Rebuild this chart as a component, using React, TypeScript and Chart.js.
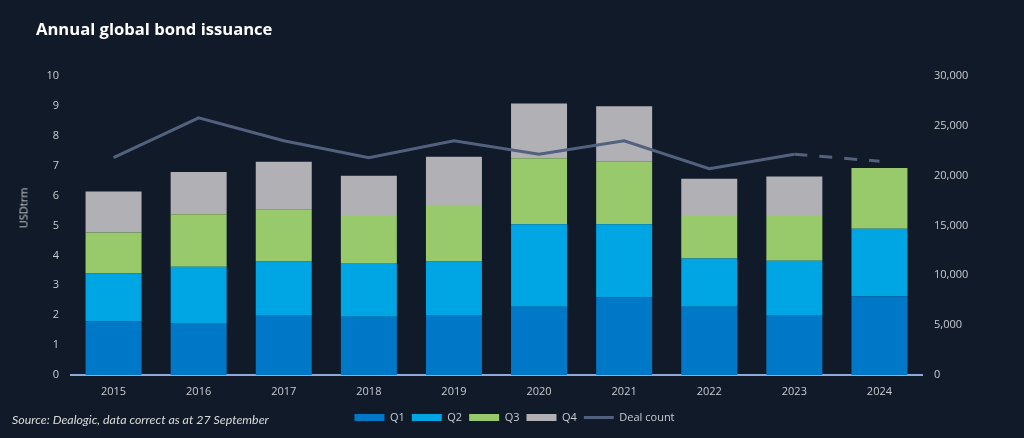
import React, { useEffect, useRef } from 'react';
import { Chart, registerables } from 'chart.js';

Chart.register(...registerables);

const years = ['2015', '2016', '2017', '2018', '2019', '2020', '2021', '2022', '2023', '2024'];
const q1 = [1.80, 1.74, 1.98, 1.95, 1.98, 2.28, 2.59, 2.28, 1.98, 2.63];
const q2 = [1.60, 1.88, 1.82, 1.80, 1.82, 2.76, 2.45, 1.62, 1.84, 2.26];
const q3 = [1.37, 1.76, 1.73, 1.57, 1.85, 2.21, 2.11, 1.45, 1.53, 2.03];
const q4 = [1.37, 1.41, 1.60, 1.34, 1.65, 1.83, 1.84, 1.21, 1.29, null];
const dealCount = [21800, 25800, 23500, 21800, 23500, 22150, 23500, 20700, 22150, 21450];

const leftMax = 10;
const leftStep = 1;
const rightMax = 30000;
const rightStep = 5000;

const BG = '#111a28';
const TICK = '#c9ccd2';
const FONT = "'Open Sans', sans-serif";

export default function App() {
  const ref = useRef<HTMLCanvasElement>(null);

  useEffect(() => {
    const canvas = ref.current;
    if (!canvas) return;
    const tickFont = { family: FONT, size: 11 };
    const chart = new Chart(canvas, {
      type: 'bar',
      data: {
        labels: years,
        datasets: [
          { label: 'Q1', data: q1, backgroundColor: '#0078c8', yAxisID: 'y', order: 1, borderWidth: 0 },
          { label: 'Q2', data: q2, backgroundColor: '#00a6e4', yAxisID: 'y', order: 1, borderWidth: 0 },
          { label: 'Q3', data: q3, backgroundColor: '#98c96a', yAxisID: 'y', order: 1, borderWidth: 0 },
          { label: 'Q4', data: q4, backgroundColor: '#b1b0b5', yAxisID: 'y', order: 1, borderWidth: 0 },
          {
            type: 'line',
            label: 'Deal count',
            data: dealCount,
            yAxisID: 'y1',
            order: 0,
            borderColor: '#52617d',
            backgroundColor: '#52617d',
            borderWidth: 3,
            pointRadius: 0,
            pointHoverRadius: 0,
            tension: 0,
            segment: {
              borderDash: (ctx: any) => (ctx.p0DataIndex === years.length - 2 ? [13, 12] : undefined),
            },
          } as any,
        ],
      },
      options: {
        responsive: false,
        animation: false,
        layout: { padding: { left: 5, right: 0, top: 76, bottom: 5 } },
        datasets: { bar: { barPercentage: 0.658, categoryPercentage: 1 } },
        scales: {
          x: {
            stacked: true,
            grid: { display: false, drawTicks: false },
            border: { display: true, color: '#8fa9d9', width: 2 },
            ticks: { color: TICK, font: tickFont, padding: 10 },
            afterFit: (s: any) => { s.height = 30; },
          },
          y: {
            stacked: true,
            min: 0,
            max: leftMax,
            grid: { display: false, drawTicks: false },
            border: { display: false },
            ticks: { stepSize: leftStep, color: TICK, font: tickFont, padding: 12 },
            afterFit: (s: any) => { s.width = 66; },
          },
          y1: {
            position: 'right',
            min: 0,
            max: rightMax,
            grid: { display: false, drawTicks: false },
            border: { display: false },
            ticks: {
              stepSize: rightStep,
              color: TICK,
              font: tickFont,
              padding: 12,
              callback: (v: any) => Number(v).toLocaleString('en-US'),
            },
            afterFit: (s: any) => { s.width = 102; },
          },
        },
        plugins: {
          legend: {
            position: 'bottom',
            labels: {
              usePointStyle: true,
              pointStyleWidth: 30,
              boxWidth: 30,
              boxHeight: 7,
              padding: 7,
              color: TICK,
              font: tickFont,
              generateLabels: (c: any) => {
                const items = (Chart.defaults as any).plugins.legend.labels.generateLabels(c);
                items.forEach((it: any) => {
                  it.pointStyle = it.datasetIndex === 4 ? 'line' : 'rect';
                });
                return items.sort((a: any, b: any) => a.datasetIndex - b.datasetIndex);
              },
            },
          },
          tooltip: { enabled: false },
        },
      } as any,
    });
    return () => chart.destroy();
  }, []);

  return (
    <div
      style={{
        position: 'absolute',
        left: 0,
        top: 0,
        width: 1024,
        height: 438,
        background: BG,
        overflow: 'hidden',
      }}
    >
      <canvas ref={ref} width={1024} height={438} style={{ position: 'absolute', left: 0, top: 0 }} />
      <div
        style={{
          position: 'absolute',
          left: 36,
          top: 19,
          fontFamily: "'Open Sans', sans-serif",
          fontWeight: 700,
          fontSize: 16.6,
          lineHeight: '20px',
          color: '#ffffff',
          whiteSpace: 'nowrap',
        }}
      >
        Annual global bond issuance
      </div>
      <div
        style={{
          position: 'absolute',
          left: 23,
          top: 208,
          transform: 'translate(-50%, -50%) rotate(-90deg)',
          fontFamily: FONT,
          fontSize: 11,
          color: TICK,
          whiteSpace: 'nowrap',
        }}
      >
        USDtrm
      </div>
      <div
        style={{
          position: 'absolute',
          left: 12,
          top: 412,
          fontFamily: "Lato, sans-serif",
          fontStyle: 'italic',
          fontSize: 12.4,
          lineHeight: '16px',
          color: '#dcdcdc',
          whiteSpace: 'nowrap',
        }}
      >
        Source: Dealogic, data correct as at 27 September
      </div>
    </div>
  );
}
